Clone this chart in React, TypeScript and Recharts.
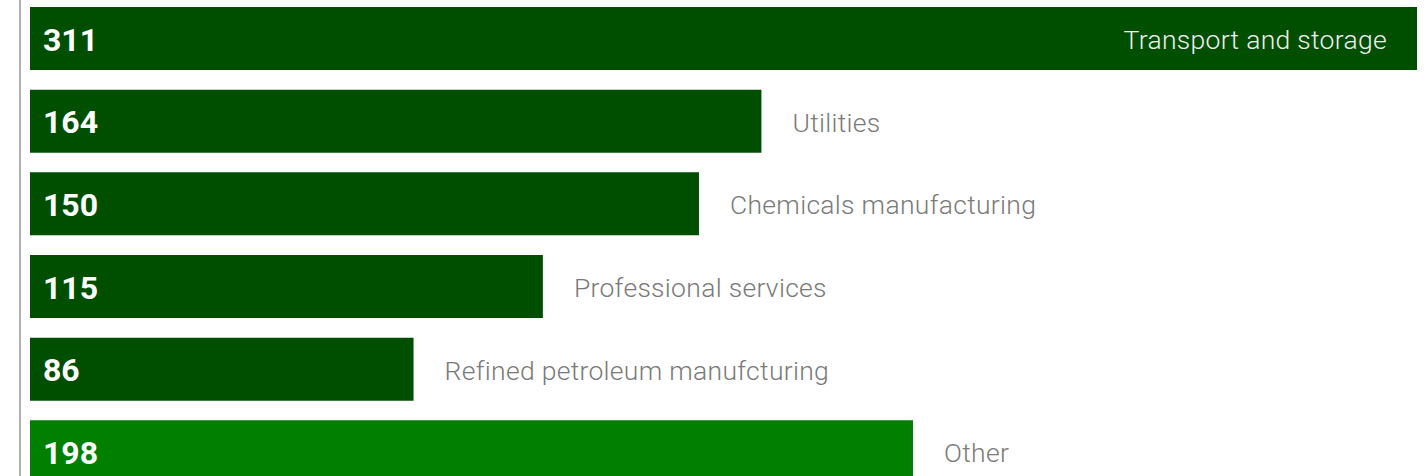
import React from "react";
import { BarChart, Bar, XAxis, YAxis, Cell, LabelList } from "recharts";

const categories = [
  "Transport and storage",
  "Utilities",
  "Chemicals manufacturing",
  "Professional services",
  "Refined petroleum manufcturing",
  "Other",
];
const values = [311, 164, 150, 115, 86, 198];
const barColors = ["#004f00", "#004f00", "#004f00", "#004f00", "#004f00", "#007f00"];

const data = categories.map((c, i) => ({ name: c, value: values[i] }));
const maxValue = Math.max(...values);

const ValueLabel = (props: any) => {
  const { x, y, height, value } = props;
  return (
    <text
      x={x + 13}
      y={y + height / 2 + 1}
      fill="#ffffff"
      fontFamily="Roboto, 'Noto Sans', sans-serif"
      fontWeight={700}
      fontSize={32}
      dominantBaseline="central"
    >
      {value}
    </text>
  );
};

const NameLabel = (props: any) => {
  const { x, y, width, height, value, index } = props;
  const inside = values[index] === maxValue;
  return (
    <text
      x={inside ? x + width - 30 : x + width + 31}
      y={y + height / 2 + 1}
      fill={inside ? "#eeeeee" : "#7a7a7a"}
      fontFamily="Roboto, 'Noto Sans', sans-serif"
      fontWeight={300}
      fontSize={26.5}
      letterSpacing={0.3}
      textAnchor={inside ? "end" : "start"}
      dominantBaseline="central"
    >
      {value}
    </text>
  );
};

export default function App() {
  return (
    <div style={{ position: "absolute", left: 0, top: -3 }}>
      <BarChart
        width={1424}
        height={496}
        data={data}
        layout="vertical"
        margin={{ top: 0, right: 7, bottom: 0, left: 0 }}
        barSize={63}
      >
        <XAxis type="number" hide domain={[0, maxValue]} padding={{ left: 10, right: 0 }} />
        <YAxis
          type="category"
          dataKey="name"
          width={20}
          tick={false}
          tickLine={false}
          axisLine={{ stroke: "#b0b0b0", strokeWidth: 2 }}
        />
        <Bar dataKey="value" isAnimationActive={false}>
          {data.map((d, i) => (
            <Cell key={d.name} fill={barColors[i]} />
          ))}
          <LabelList dataKey="value" content={ValueLabel} />
          <LabelList dataKey="name" content={NameLabel} />
        </Bar>
      </BarChart>
    </div>
  );
}
